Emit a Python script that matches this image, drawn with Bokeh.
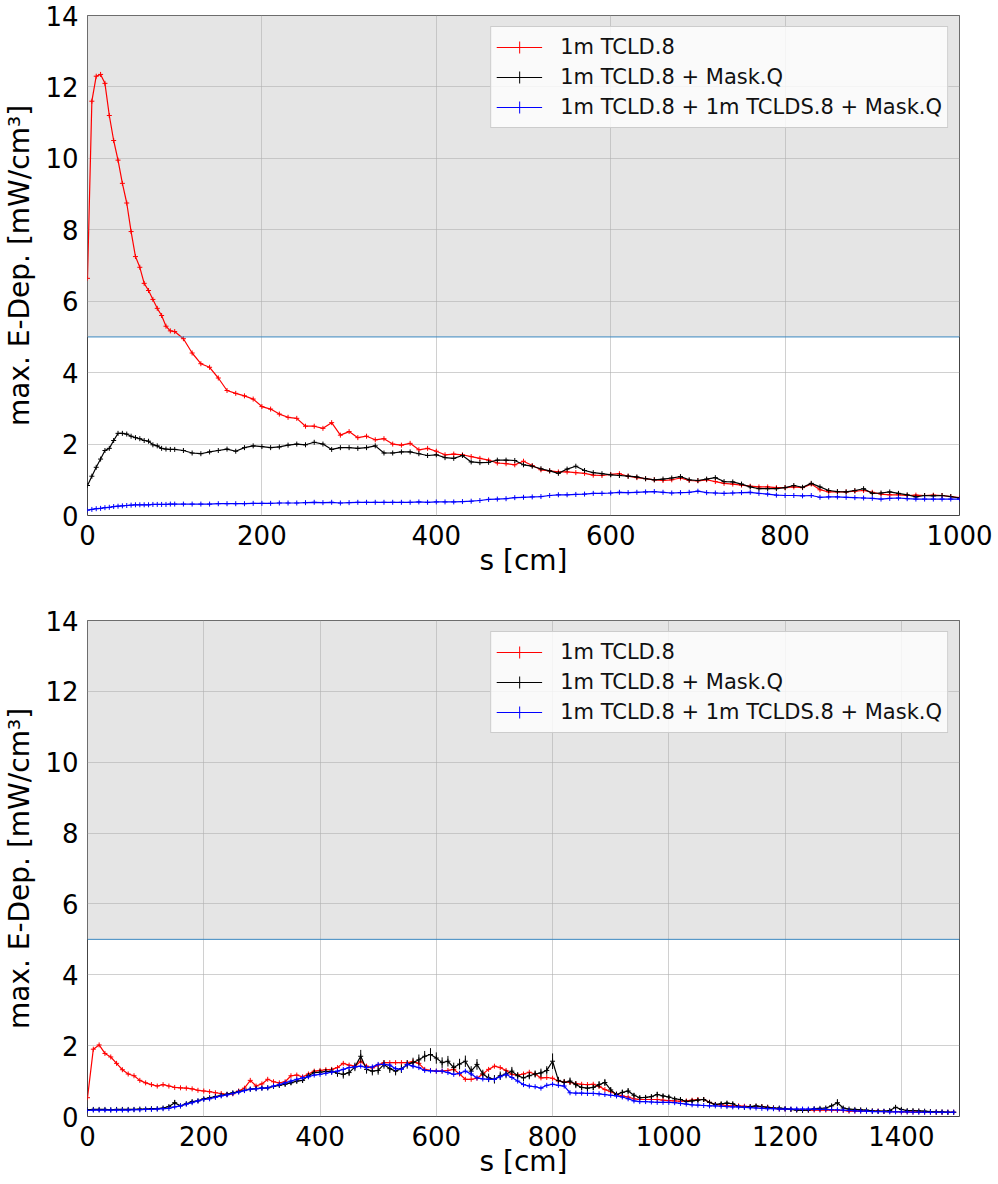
from bokeh.plotting import figure
from bokeh.models import Range1d, BoxAnnotation, Span, Legend, LegendItem, FixedTicker, ColumnDataSource
from bokeh.layouts import column
from bokeh.embed import file_html
from bokeh.resources import INLINE

FONT = "DejaVu Sans"

labels = ["1m TCLD.8", "1m TCLD.8 + Mask.Q", "1m TCLD.8 + 1m TCLDS.8 + Mask.Q"]
colors = ["#ff0000", "#000000", "#0000ff"]
y_ticks = [0, 2, 4, 6, 8, 10, 12, 14]
x_ticks_top = [0, 200, 400, 600, 800, 1000]
x_ticks_bot = [0, 200, 400, 600, 800, 1000, 1200, 1400]
limit = 5

# ---- top panel (s in cm) ----
s_top = [0, 5, 10, 15, 20, 25, 30, 35, 40, 45, 50, 55, 60, 65, 70, 75, 80, 85, 90, 95] + list(range(100, 1001, 10))

red_top = [6.64, 11.6, 12.3, 12.35, 12.1, 11.2, 10.5, 9.95, 9.3, 8.75,
           7.95, 7.25, 6.95, 6.5, 6.3, 6.05, 5.8, 5.6, 5.3, 5.17,
           5.15, 4.95, 4.55, 4.25, 4.15, 3.85, 3.5, 3.42, 3.35, 3.26,
           3.05, 2.98, 2.84, 2.75, 2.72, 2.5, 2.5, 2.44, 2.6, 2.25,
           2.35, 2.18, 2.22, 2.12, 2.15, 2.0, 1.97, 2.02, 1.84, 1.88,
           1.8, 1.7, 1.72, 1.7, 1.65, 1.6, 1.55, 1.47, 1.45, 1.42,
           1.52, 1.4, 1.28, 1.25, 1.22, 1.22, 1.2, 1.18, 1.13, 1.12,
           1.15, 1.17, 1.1, 1.06, 1.03, 1.0, 0.98, 1.0, 1.05, 0.98,
           0.97, 1.0, 0.95, 0.9, 0.88, 0.85, 0.82, 0.8, 0.8, 0.78,
           0.78, 0.8, 0.78, 0.88, 0.72, 0.66, 0.66, 0.66, 0.68, 0.7,
           0.65, 0.6, 0.58, 0.58, 0.56, 0.57, 0.56, 0.57, 0.56, 0.53,
           0.5]

black_top = [0.84, 1.1, 1.35, 1.58, 1.82, 1.88, 2.1, 2.3, 2.3, 2.28,
             2.22, 2.18, 2.15, 2.1, 2.08, 1.98, 1.95, 1.88, 1.86, 1.85,
             1.85, 1.82, 1.75, 1.73, 1.78, 1.82, 1.86, 1.8, 1.9, 1.95,
             1.93, 1.9, 1.92, 1.97, 2.0, 1.98, 2.05, 2.0, 1.85, 1.9,
             1.9, 1.88, 1.9, 1.95, 1.75, 1.75, 1.78, 1.78, 1.73, 1.68,
             1.7, 1.62, 1.6, 1.68, 1.5, 1.48, 1.49, 1.55, 1.55, 1.54,
             1.42, 1.38, 1.31, 1.25, 1.18, 1.3, 1.38, 1.26, 1.2, 1.17,
             1.14, 1.12, 1.1, 1.08, 1.03, 1.0, 1.02, 1.05, 1.09, 1.0,
             0.98, 1.02, 1.06, 0.95, 0.94, 0.88, 0.8, 0.75, 0.75, 0.75,
             0.78, 0.84, 0.79, 0.9, 0.8, 0.7, 0.67, 0.66, 0.7, 0.75,
             0.62, 0.63, 0.66, 0.62, 0.58, 0.52, 0.56, 0.55, 0.56, 0.53,
             0.49]

blue_top = [0.15, 0.17, 0.19, 0.2, 0.22, 0.23, 0.25, 0.26, 0.27, 0.28,
            0.29, 0.3, 0.3, 0.3, 0.3, 0.31, 0.31, 0.31, 0.31, 0.32,
            0.32, 0.32, 0.32, 0.32, 0.32, 0.33, 0.33, 0.33, 0.33, 0.34,
            0.34, 0.34, 0.35, 0.35, 0.35, 0.36, 0.37, 0.36, 0.37, 0.35,
            0.36, 0.37, 0.37, 0.37, 0.37, 0.37, 0.37, 0.37, 0.38, 0.37,
            0.38, 0.38, 0.38, 0.39, 0.4, 0.42, 0.45, 0.46, 0.47, 0.5,
            0.51, 0.52, 0.53, 0.56, 0.58, 0.58, 0.59, 0.6, 0.62, 0.62,
            0.63, 0.65, 0.64, 0.65, 0.66, 0.67, 0.65, 0.63, 0.64, 0.65,
            0.68, 0.64, 0.63, 0.62, 0.63, 0.64, 0.65, 0.62, 0.6, 0.57,
            0.56, 0.56, 0.55, 0.56, 0.51, 0.52, 0.52, 0.51, 0.5, 0.49,
            0.48, 0.46, 0.48, 0.49, 0.47, 0.46, 0.46, 0.46, 0.46, 0.46,
            0.46]

# ---- bottom panel ----
s_bot = list(range(0, 1500, 10))

red_bot = [0.53, 1.9, 2.02, 1.78, 1.68, 1.5, 1.32, 1.2, 1.15, 1.02,
           0.95, 0.9, 0.86, 0.9, 0.86, 0.82, 0.81, 0.8, 0.78, 0.74,
           0.72, 0.7, 0.67, 0.65, 0.62, 0.64, 0.72, 0.8, 1.02, 0.86,
           0.92, 1.05, 0.98, 0.95, 0.98, 1.15, 1.17, 1.12, 1.2, 1.28,
           1.3, 1.32, 1.33, 1.38, 1.5, 1.45, 1.42, 1.56, 1.42, 1.37,
           1.45, 1.52, 1.52, 1.52, 1.52, 1.52, 1.55, 1.5, 1.33, 1.3,
           1.28, 1.28, 1.3, 1.33, 1.2, 1.05, 1.05, 1.08, 1.2, 1.33,
           1.42, 1.38, 1.3, 1.19, 1.17, 1.2, 1.25, 1.2, 1.09, 1.1,
           1.08, 1.0, 0.98, 0.96, 0.93, 0.91, 0.9, 0.91, 0.85, 0.76,
           0.7, 0.63, 0.58, 0.55, 0.5, 0.48, 0.48, 0.48, 0.48, 0.46,
           0.45, 0.44, 0.43, 0.44, 0.46, 0.48, 0.48, 0.4, 0.34, 0.33,
           0.31, 0.3, 0.3, 0.29, 0.28, 0.28, 0.28, 0.26, 0.24, 0.21,
           0.21, 0.2, 0.19, 0.19, 0.18, 0.18, 0.18, 0.18, 0.18, 0.17,
           0.17, 0.15, 0.15, 0.16, 0.15, 0.15, 0.15, 0.14, 0.14, 0.14,
           0.13, 0.13, 0.13, 0.13, 0.12, 0.12, 0.12, 0.12, 0.12, 0.12]

black_bot = [0.19, 0.2, 0.2, 0.2, 0.19, 0.2, 0.2, 0.2, 0.2, 0.21,
             0.21, 0.22, 0.22, 0.24, 0.28, 0.39, 0.3, 0.36, 0.42, 0.44,
             0.5, 0.53, 0.56, 0.6, 0.63, 0.67, 0.7, 0.74, 0.77, 0.79,
             0.8, 0.81, 0.85, 0.88, 0.91, 0.95, 1.0, 1.02, 1.15, 1.24,
             1.25, 1.27, 1.28, 1.22, 1.19, 1.24, 1.4, 1.7, 1.33, 1.28,
             1.3, 1.47, 1.35, 1.28, 1.35, 1.47, 1.52, 1.6, 1.7, 1.75,
             1.65, 1.52, 1.56, 1.38, 1.48, 1.56, 1.28, 1.47, 1.2, 1.09,
             1.05, 1.15, 1.2, 1.28, 1.15, 1.09, 1.15, 1.2, 1.23, 1.3,
             1.56, 1.02, 0.96, 1.0, 0.9, 0.82, 0.8, 0.82, 0.9, 0.96,
             0.75, 0.62, 0.68, 0.72, 0.6, 0.53, 0.54, 0.56, 0.62, 0.58,
             0.55, 0.5, 0.48, 0.42, 0.44, 0.46, 0.48, 0.4, 0.34, 0.36,
             0.38, 0.36, 0.28, 0.26, 0.28, 0.3, 0.28, 0.26, 0.24, 0.24,
             0.22, 0.2, 0.18, 0.17, 0.18, 0.22, 0.23, 0.24, 0.3, 0.39,
             0.24, 0.21, 0.2, 0.19, 0.18, 0.16, 0.15, 0.15, 0.17, 0.26,
             0.2, 0.17, 0.17, 0.16, 0.15, 0.14, 0.13, 0.13, 0.12, 0.12]

blue_bot = [0.17, 0.18, 0.18, 0.18, 0.18, 0.18, 0.18, 0.18, 0.19, 0.19,
            0.2, 0.2, 0.21, 0.22, 0.23, 0.27, 0.3, 0.35, 0.39, 0.44,
            0.48, 0.5, 0.54, 0.58, 0.61, 0.65, 0.69, 0.73, 0.77, 0.78,
            0.8, 0.81, 0.86, 0.9, 0.95, 1.0, 1.05, 1.09, 1.12, 1.17,
            1.19, 1.22, 1.25, 1.28, 1.33, 1.38, 1.4, 1.42, 1.38, 1.4,
            1.47, 1.47, 1.45, 1.35, 1.33, 1.47, 1.42, 1.38, 1.3, 1.29,
            1.28, 1.28, 1.24, 1.19, 1.22, 1.28, 1.2, 1.09, 1.06, 1.05,
            1.05, 1.12, 1.19, 1.1, 1.0, 0.9, 0.86, 0.84, 0.8, 0.88,
            0.91, 0.88, 0.86, 0.67, 0.66, 0.66, 0.65, 0.65, 0.64, 0.62,
            0.6, 0.58, 0.55, 0.5, 0.44, 0.42, 0.42, 0.41, 0.4, 0.4,
            0.4, 0.39, 0.37, 0.35, 0.33, 0.32, 0.31, 0.3, 0.3, 0.29,
            0.28, 0.27, 0.27, 0.26, 0.25, 0.24, 0.23, 0.22, 0.22, 0.21,
            0.21, 0.21, 0.21, 0.21, 0.21, 0.21, 0.2, 0.2, 0.19, 0.19,
            0.18, 0.17, 0.16, 0.15, 0.15, 0.14, 0.14, 0.14, 0.13, 0.13,
            0.13, 0.13, 0.12, 0.12, 0.12, 0.12, 0.12, 0.12, 0.12, 0.12]

# error half-widths of the black series in the bottom panel
err_black_bot = [0.03, 0.03, 0.03, 0.03, 0.03, 0.03, 0.03, 0.03, 0.03, 0.03,
                 0.03, 0.03, 0.03, 0.03, 0.04, 0.08, 0.05, 0.05, 0.05, 0.05,
                 0.05, 0.05, 0.05, 0.05, 0.05, 0.05, 0.05, 0.05, 0.05, 0.05,
                 0.05, 0.05, 0.06, 0.06, 0.06, 0.06, 0.07, 0.07, 0.08, 0.08,
                 0.08, 0.08, 0.1, 0.1, 0.12, 0.1, 0.12, 0.18, 0.12, 0.12,
                 0.12, 0.12, 0.12, 0.12, 0.12, 0.12, 0.14, 0.15, 0.15, 0.18,
                 0.16, 0.15, 0.15, 0.14, 0.15, 0.16, 0.14, 0.15, 0.12, 0.12,
                 0.12, 0.12, 0.12, 0.12, 0.1, 0.1, 0.1, 0.1, 0.12, 0.12,
                 0.22, 0.1, 0.1, 0.1, 0.1, 0.08, 0.08, 0.08, 0.1, 0.1,
                 0.08, 0.08, 0.08, 0.08, 0.06, 0.06, 0.06, 0.06, 0.08, 0.06,
                 0.06, 0.05, 0.05, 0.05, 0.05, 0.06, 0.06, 0.05, 0.05, 0.05,
                 0.05, 0.05, 0.04, 0.04, 0.04, 0.04, 0.04, 0.04, 0.04, 0.04,
                 0.04, 0.04, 0.04, 0.04, 0.04, 0.04, 0.04, 0.04, 0.05, 0.1,
                 0.04, 0.03, 0.03, 0.03, 0.03, 0.03, 0.03, 0.03, 0.03, 0.06,
                 0.03, 0.03, 0.03, 0.03, 0.03, 0.03, 0.03, 0.03, 0.03, 0.03]


def make_panel(s, series, xmax, xticks, height, top_border, bottom_border, errs=None):
    p = figure(width=998, height=height,
               x_range=Range1d(0, xmax), y_range=Range1d(0, 14),
               output_backend="svg", toolbar_location=None,
               min_border_left=86, min_border_right=39,
               min_border_top=top_border, min_border_bottom=bottom_border,
               background_fill_color="white", border_fill_color="white")
    p.add_layout(BoxAnnotation(bottom=limit, top=14, fill_color="#e5e5e5", fill_alpha=1.0,
                               line_color=None, level="image"))
    p.add_layout(Span(location=limit, dimension="width", line_color="#3a87c0", line_width=1))

    items = []
    for k, (vals, lab, col) in enumerate(zip(series, labels, colors)):
        src = ColumnDataSource(dict(x=s, y=vals))
        if errs is not None and errs[k] is not None:
            e = errs[k]
            p.segment(x0=s, x1=s, y0=[v - d for v, d in zip(vals, e)],
                      y1=[v + d for v, d in zip(vals, e)], line_color=col, line_width=1)
        ln = p.line("x", "y", source=src, line_color=col, line_width=1.2)
        mk = p.scatter("x", "y", source=src, marker="cross", size=5, line_color=col, line_width=1)
        items.append(LegendItem(label=lab, renderers=[ln, mk]))

    legend = Legend(items=items, location="top_right", margin=11, padding=5, spacing=0,
                    glyph_width=46, glyph_height=30, label_standoff=18,
                    label_text_font=FONT, label_text_font_size="21px", label_text_color="#111111",
                    border_line_color="#cccccc", border_line_alpha=1.0,
                    background_fill_color="white", background_fill_alpha=0.8)
    p.add_layout(legend)

    p.xaxis.ticker = FixedTicker(ticks=xticks)
    p.yaxis.ticker = FixedTicker(ticks=y_ticks)
    p.xaxis.axis_label = "s [cm]"
    p.yaxis.axis_label = "max. E-Dep. [mW/cm³]"
    for ax in (p.xaxis, p.yaxis):
        ax.axis_label_text_font = FONT
        ax.axis_label_text_font_size = "28px"
        ax.axis_label_text_font_style = "normal"
        ax.axis_label_text_color = "#000000"
        ax.major_label_text_font = FONT
        ax.major_label_text_font_size = "26px"
        ax.major_label_text_color = "#000000"
        ax.major_tick_line_color = None
        ax.minor_tick_line_color = None
        ax.axis_line_color = None
        ax.major_label_standoff = 3
    p.xaxis.axis_label_standoff = -4
    p.yaxis.axis_label_standoff = 6
    p.grid.grid_line_color = "#b0b0b0"
    p.grid.grid_line_alpha = 0.6
    p.outline_line_color = "#444444"
    p.outline_line_width = 1
    p.outline_line_alpha = 1.0
    return p


p1 = make_panel(s_top, [red_top, black_top, blue_top], 1000, x_ticks_top, 580, 15, 65)
p2 = make_panel(s_bot, [red_bot, black_bot, blue_bot], 1500, x_ticks_bot, 600, 40, 61,
                errs=[None, err_black_bot, None])

layout = column(p1, p2, spacing=0)
open("out.html", "w").write(file_html(layout, INLINE))
